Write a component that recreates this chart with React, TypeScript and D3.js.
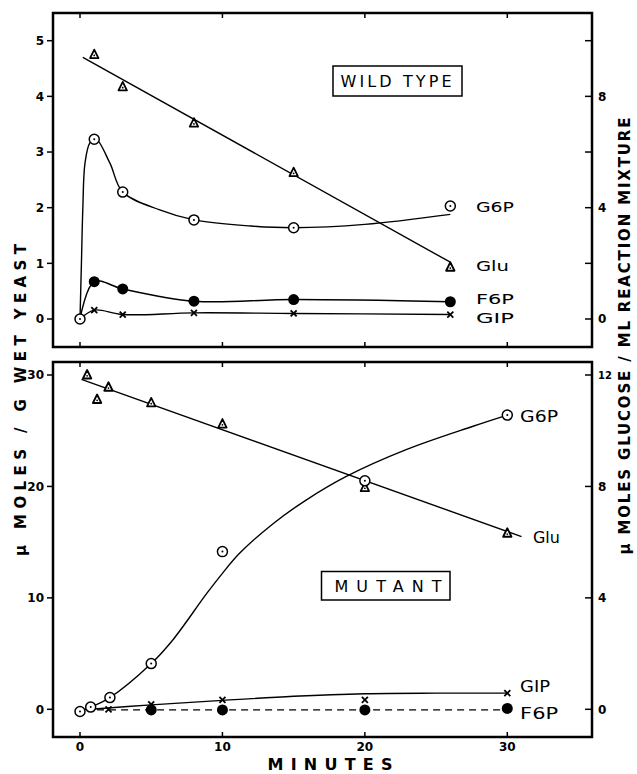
import React from "react";
import * as d3 from "d3";

// ---- wild type (upper panel), minutes / µmoles per g wet yeast ----
const wtTime = [0, 1, 3, 8, 15, 26];
const wtG6P = [0, 3.23, 2.28, 1.78, 1.64, 2.03];
const wtF6P = [0, 0.67, 0.54, 0.32, 0.35, 0.31];
const wtG1P = [0, 0.16, 0.08, 0.11, 0.1, 0.08];
const wtGluTime = [1, 3, 8, 15, 26];
const wtGlu = [4.75, 4.17, 3.52, 2.63, 0.93];
// hand drawn fits
const wtGluFitTime = [0.2, 26];
const wtGluFit = [4.7, 1.02];
const wtG6PCurveTime = [0, 0.1, 0.2, 0.35, 0.7, 1.1, 2.1, 3, 5.6, 8, 12, 15, 20, 26];
const wtG6PCurve = [0, 1.0, 2.0, 2.8, 3.17, 3.24, 2.8, 2.28, 1.96, 1.78, 1.67, 1.64, 1.7, 1.88];

// ---- mutant (lower panel) ----
const mutG6PTime = [0, 0.75, 2.1, 5, 10, 20, 30];
const mutG6P = [-0.2, 0.2, 1.05, 4.1, 14.15, 20.5, 26.4];
const mutG6PCurveTime = [0, 0.75, 2.1, 5, 6.5, 8.9, 10, 11.2, 13.6, 15.9, 18.7, 22.9, 27.6, 30];
const mutG6PCurve = [-0.2, 0.2, 1.05, 4.1, 6.2, 10.4, 12.2, 14.0, 16.7, 18.8, 20.9, 23.3, 25.4, 26.4];
const mutGluTime = [0.5, 1.2, 2, 5, 10, 20, 30];
const mutGlu = [30.0, 27.8, 28.9, 27.5, 25.6, 19.9, 15.8];
const mutGluFitTime = [0.1, 31];
const mutGluFit = [29.6, 15.5];
const mutG1PTime = [2, 5, 10, 20, 30];
const mutG1P = [0.0, 0.45, 0.85, 0.85, 1.45];
const mutG1PCurveTime = [0.8, 5, 10, 15, 20, 25, 30];
const mutG1PCurve = [0.0, 0.4, 0.8, 1.17, 1.4, 1.45, 1.45];
const mutF6PTime = [5, 10, 20, 30];
const mutF6P = [-0.06, -0.06, -0.06, 0.08];
const mutF6PFitTime = [1.2, 30];
const mutF6PFit = [-0.05, -0.05];

// ticks
const xTicks = [0, 10, 20, 30];
const wtLeftTicks = [0, 1, 2, 3, 4, 5];
const wtRightTicks = [0, 2, 4, 6, 8, 10];
const wtRightLabels = [0, 4, 8];
const mutLeftTicks = [0, 10, 20, 30];
const mutRightTicks = [0, 4, 8, 12];

// series labels: name, value at label, drawn width
const wtLabelNames = ["G6P", "Glu", "F6P", "GIP"];
const wtLabelY = [2.01, 0.95, 0.37, 0.02];
const wtLabelW = [38, 33, 38, 38];
const mutLabelNames = ["G6P", "Glu", "GIP", "F6P"];
const mutLabelX = [30.9, 31.8, 30.9, 30.9];
const mutLabelY = [26.3, 15.4, 2.0, -0.35];
const mutLabelW = [38, 27, 30, 38];

const FONT = "DejaVu Sans, sans-serif";
const W = 637;
const H = 774;
const frameL = 53;
const frameR = 592;

const x = d3.scaleLinear().domain([0, 30]).range([80, 507.3]);
const yTop = d3.scaleLinear().domain([0, 5]).range([319, 40.7]);
const yTopR = d3.scaleLinear().domain([0, 10]).range([319, 40.7]);
const yBot = d3.scaleLinear().domain([0, 30]).range([709.3, 375]);
const yBotR = d3.scaleLinear().domain([0, 12]).range([709.3, 375]);

const zip = (t: number[], v: number[]) => t.map((d, i) => [d, v[i]] as [number, number]);

const OpenDot = ({ cx, cy }: { cx: number; cy: number }) => (
  <g>
    <circle cx={cx} cy={cy} r={5} fill="#fff" stroke="#000" strokeWidth={1.5} />
    <circle cx={cx} cy={cy} r={1} fill="#000" />
  </g>
);
const Filled = ({ cx, cy }: { cx: number; cy: number }) => (
  <circle cx={cx} cy={cy} r={5.5} fill="#000" />
);
const Tri = ({ cx, cy }: { cx: number; cy: number }) => (
  <g transform={`translate(${cx},${cy})`}>
    <path d="M0,-5L4.2,3.5L-4.2,3.5Z" fill="#fff" stroke="#000" strokeWidth={1.8} strokeLinejoin="round" />
    <circle cx={0} cy={0.8} r={0.9} fill="#000" />
  </g>
);
const Cross = ({ cx, cy }: { cx: number; cy: number }) => (
  <g stroke="#000" strokeWidth={1.8}>
    <line x1={cx - 3} y1={cy - 3} x2={cx + 3} y2={cy + 3} />
    <line x1={cx - 3} y1={cy + 3} x2={cx + 3} y2={cy - 3} />
  </g>
);

type Panel = {
  top: number;
  bottom: number;
  yL: d3.ScaleLinear<number, number>;
  yR: d3.ScaleLinear<number, number>;
  leftTicks: number[];
  rightTicks: number[];
  rightLabels: number[];
};

const Frame = ({ p, showX }: { p: Panel; showX: boolean }) => (
  <g fontFamily={FONT} fontWeight="bold" fontSize={12}>
    <rect x={frameL} y={p.top} width={frameR - frameL} height={p.bottom - p.top}
      fill="none" stroke="#000" strokeWidth={2.5} />
    {xTicks.map((t) => (
      <g key={"x" + t}>
        <line x1={x(t)} x2={x(t)} y1={p.top} y2={p.top + 5} stroke="#000" strokeWidth={1.5} />
        <line x1={x(t)} x2={x(t)} y1={p.bottom} y2={p.bottom - 5} stroke="#000" strokeWidth={1.5} />
        {showX && (
          <text x={x(t)} y={p.bottom + 14} textAnchor="middle">{t}</text>
        )}
      </g>
    ))}
    {p.leftTicks.map((v) => (
      <g key={"l" + v}>
        <line x1={frameL - 6} x2={frameL} y1={p.yL(v)} y2={p.yL(v)} stroke="#000" strokeWidth={1.5} />
        <text x={frameL - 9} y={p.yL(v)} dy="0.36em" textAnchor="end">{v}</text>
      </g>
    ))}
    {p.rightTicks.map((v) => (
      <g key={"r" + v}>
        <line x1={frameR - 7} x2={frameR} y1={p.yR(v)} y2={p.yR(v)} stroke="#000" strokeWidth={1.5} />
        {p.rightLabels.includes(v) && (
          <text x={frameR + 6} y={p.yR(v)} dy="0.36em" fontSize={v >= 10 ? 10 : 12}>{v}</text>
        )}
      </g>
    ))}
  </g>
);

const curve = (y: d3.ScaleLinear<number, number>) =>
  d3.line<[number, number]>().x((d) => x(d[0])).y((d) => y(d[1])).curve(d3.curveCatmullRom.alpha(0.5));
const straight = (y: d3.ScaleLinear<number, number>) =>
  d3.line<[number, number]>().x((d) => x(d[0])).y((d) => y(d[1]));

export default function App() {
  const top: Panel = {
    top: 13, bottom: 347, yL: yTop, yR: yTopR,
    leftTicks: wtLeftTicks, rightTicks: wtRightTicks, rightLabels: wtRightLabels,
  };
  const bot: Panel = {
    top: 362, bottom: 737, yL: yBot, yR: yBotR,
    leftTicks: mutLeftTicks, rightTicks: mutRightTicks, rightLabels: mutRightTicks,
  };
  const cT = curve(yTop);
  const sT = straight(yTop);
  const cB = curve(yBot);
  const sB = straight(yBot);
  const ls = { fill: "none", stroke: "#000", strokeWidth: 1.4 };

  return (
    <svg width={W} height={H} style={{ position: "absolute", left: 0, top: 0, background: "#fff" }}>
      <rect width={W} height={H} fill="#fff" />
      <Frame p={top} showX={false} />
      <Frame p={bot} showX={true} />

      {/* wild type */}
      <path d={sT(zip(wtGluFitTime, wtGluFit)) || ""} {...ls} />
      <path d={cT(zip(wtG6PCurveTime, wtG6PCurve)) || ""} {...ls} />
      <path d={cT(zip(wtTime, wtF6P)) || ""} {...ls} />
      <path d={cT(zip(wtTime, wtG1P)) || ""} {...ls} />
      {wtGluTime.map((t, i) => <Tri key={"wg" + i} cx={x(t)} cy={yTop(wtGlu[i])} />)}
      {wtTime.slice(1).map((t, i) => <Cross key={"wx" + i} cx={x(t)} cy={yTop(wtG1P[i + 1])} />)}
      {wtTime.slice(1).map((t, i) => <Filled key={"wf" + i} cx={x(t)} cy={yTop(wtF6P[i + 1])} />)}
      {wtTime.map((t, i) => <OpenDot key={"wo" + i} cx={x(t)} cy={yTop(wtG6P[i])} />)}
      <g fontFamily={FONT} fontSize={14.5}>
        {wtLabelNames.map((n, i) => (
          <text key={n} x={x(27.8)} y={yTop(wtLabelY[i])} dy="0.36em"
            textLength={wtLabelW[i]} lengthAdjust="spacingAndGlyphs">{n}</text>
        ))}
      </g>
      <rect x={333} y={66} width={129} height={30} fill="#fff" stroke="#000" strokeWidth={1.5} />
      <text x={396} y={81} dy="0.36em" textAnchor="middle" fontFamily={FONT} fontSize={16}
        textLength={111} lengthAdjust="spacing">WILD TYPE</text>

      {/* mutant */}
      <path d={sB(zip(mutGluFitTime, mutGluFit)) || ""} {...ls} />
      <path d={cB(zip(mutG6PCurveTime, mutG6PCurve)) || ""} {...ls} />
      <path d={cB(zip(mutG1PCurveTime, mutG1PCurve)) || ""} {...ls} />
      <path d={sB(zip(mutF6PFitTime, mutF6PFit)) || ""} {...ls} strokeDasharray="7,5" />
      {mutGluTime.map((t, i) => <Tri key={"mg" + i} cx={x(t)} cy={yBot(mutGlu[i])} />)}
      {mutF6PTime.map((t, i) => <Filled key={"mf" + i} cx={x(t)} cy={yBot(mutF6P[i])} />)}
      {mutG1PTime.map((t, i) => <Cross key={"mx" + i} cx={x(t)} cy={yBot(mutG1P[i])} />)}
      {mutG6PTime.map((t, i) => <OpenDot key={"mo" + i} cx={x(t)} cy={yBot(mutG6P[i])} />)}
      <g fontFamily={FONT} fontSize={15}>
        {mutLabelNames.map((n, i) => (
          <text key={n} x={x(mutLabelX[i])} y={yBot(mutLabelY[i])} dy="0.36em"
            textLength={mutLabelW[i]} lengthAdjust="spacingAndGlyphs">{n}</text>
        ))}
      </g>
      <rect x={321.5} y={571.5} width={128.5} height={28.5} fill="#fff" stroke="#000" strokeWidth={1.5} />
      <text x={388} y={586} dy="0.36em" textAnchor="middle" fontFamily={FONT} fontSize={16}
        textLength={107} lengthAdjust="spacing">MUTANT</text>

      {/* axis titles */}
      <g fontFamily={FONT} fontWeight="bold" fontSize={15}>
        <text transform="translate(21,400) rotate(-90)" textAnchor="middle" dy="0.36em"
          textLength={312} lengthAdjust="spacing">μ MOLES / G WET YEAST</text>
        <text transform="translate(625,336) rotate(-90)" textAnchor="middle" dy="0.36em"
          textLength={437} lengthAdjust="spacing">μ MOLES GLUCOSE / ML REACTION MIXTURE</text>
        <text x={330} y={770} textAnchor="middle" fontSize={16}
          textLength={125} lengthAdjust="spacing">MINUTES</text>
      </g>
    </svg>
  );
}
